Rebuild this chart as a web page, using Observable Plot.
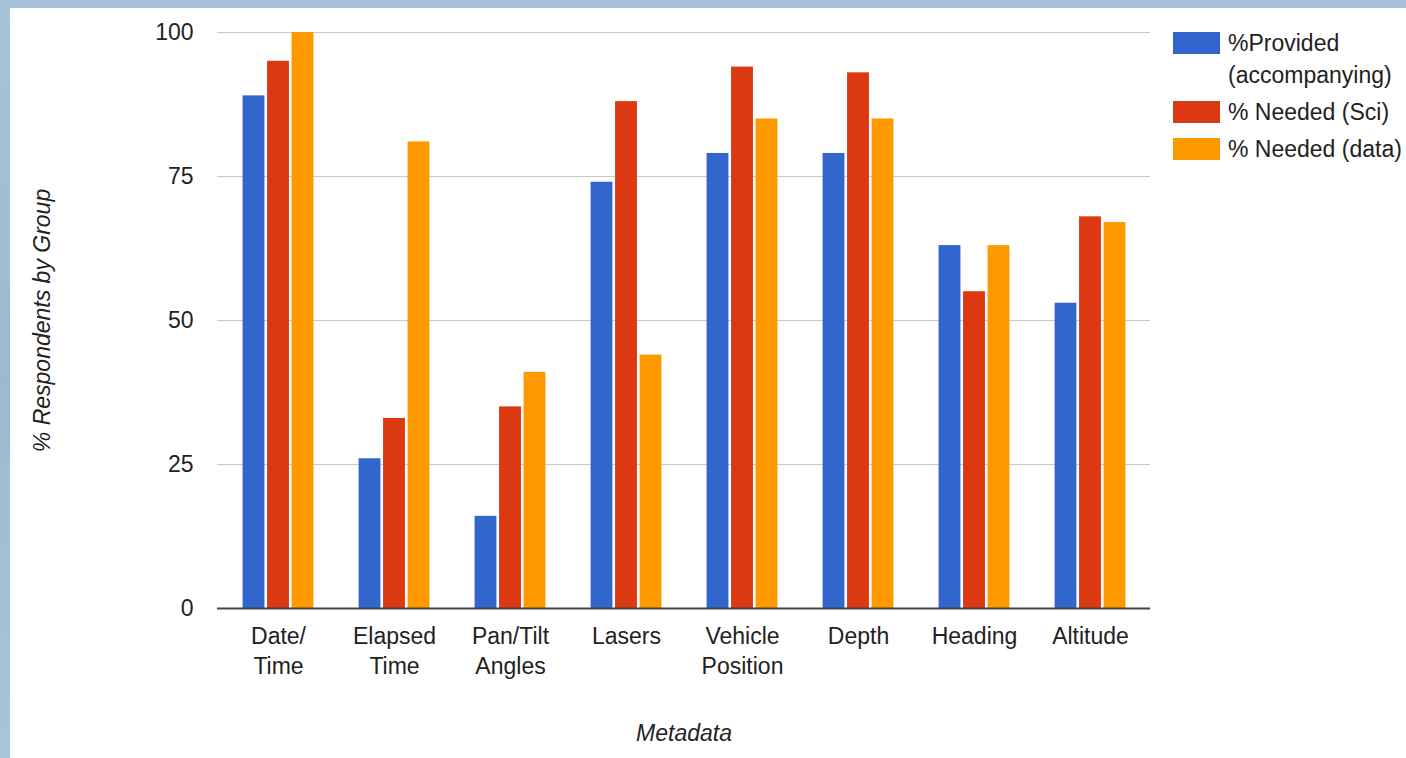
<!DOCTYPE html>
<html>
<head>
<meta charset="utf-8">
<script src="https://cdn.jsdelivr.net/npm/d3@7"></script>
<script src="https://cdn.jsdelivr.net/npm/@observablehq/plot@0.6"></script>
<style>
  html, body { margin: 0; padding: 0; width: 1406px; height: 758px; overflow: hidden; }
  body { background: linear-gradient(180deg, #a7c2d9 0%, #9db9d2 50%, #a9c3da 100%); font-family: "Liberation Sans", Arial, sans-serif; }
  #card { position: absolute; left: 10px; top: 8px; right: 0; bottom: 0; background: #fff; }
  #legend { position: absolute; left: 1173px; top: 27px; display: flex; flex-direction: column; gap: 5px; }
  .item { display: flex; align-items: flex-start; }
  .sw { width: 47px; height: 22px; margin-top: 5px; margin-right: 8px; flex: none; }
  .lbl { font-size: 23px; line-height: 32px; color: #222; width: 178px; white-space: normal; }
</style>
</head>
<body>
<div id="card"></div>
<div id="legend"></div>
<script>
const categories = ["Date/\nTime", "Elapsed\nTime", "Pan/Tilt\nAngles", "Lasers", "Vehicle\nPosition", "Depth", "Heading", "Altitude"];
const series = ["%Provided (accompanying)", "% Needed (Sci)", "% Needed (data)"];
const colors = ["#3366cc", "#dc3912", "#ff9900"];
const provided   = [89, 26, 16, 74, 79, 79, 63, 53];
const neededSci  = [95, 33, 35, 88, 94, 93, 55, 68];
const neededData = [100, 81, 41, 44, 85, 85, 63, 67];
const yTicks = [0, 25, 50, 75, 100];
const xTitle = "Metadata";
const yTitle = "% Respondents by Group";

const values = [provided, neededSci, neededData];
const rows = categories.flatMap((c, j) => series.map((s, i) => ({category: c, series: s, value: values[i][j]})));

const W = 1396, H = 750, ML = 207, MR = 256, MT = 24, MB = 150;
const step = (W - ML - MR) / categories.length;
const barW = 22.5, gap = 2;
const groupW = series.length * barW + (series.length - 1) * gap;
const off = (step - groupW) / 2;

const barMarks = series.map((s, i) => Plot.barY(rows.filter(d => d.series === s), {
  x: "category", y: "value", fill: colors[i],
  insetLeft: off + i * (barW + gap),
  insetRight: step - off - i * (barW + gap) - barW
}));

const chart = Plot.plot({
  width: W, height: H,
  marginLeft: ML, marginRight: MR, marginTop: MT, marginBottom: MB,
  style: {fontFamily: "'Liberation Sans', Arial, sans-serif", fontSize: "23px", color: "#222", background: "transparent"},
  x: {domain: categories, padding: 0, label: null},
  y: {domain: [0, 100], label: null},
  marks: [
    Plot.ruleY([25, 50, 75, 100], {stroke: "#c8c8c8", strokeWidth: 1.2}),
    ...barMarks,
    Plot.ruleY([0], {stroke: "#444", strokeWidth: 1.8}),
    Plot.axisY({ticks: yTicks, tickSize: 0, tickPadding: 24, label: null, fontSize: 23}),
    Plot.axisX({tickSize: 0, tickPadding: 14, label: null, fontSize: 23, lineHeight: 1.3}),
    Plot.text([xTitle], {frameAnchor: "bottom", dy: 132, fontStyle: "italic", fontSize: 23, fill: "#222"}),
    Plot.text([yTitle], {frameAnchor: "left", textAnchor: "middle", rotate: -90, dx: -175, fontStyle: "italic", fontSize: 23, fill: "#222"})
  ]
});
document.getElementById("card").appendChild(chart);

const legend = document.getElementById("legend");
series.forEach((s, i) => {
  const item = document.createElement("div");
  item.className = "item";
  const sw = document.createElement("div");
  sw.className = "sw";
  sw.style.background = colors[i];
  const lbl = document.createElement("div");
  lbl.className = "lbl";
  lbl.textContent = s;
  item.appendChild(sw);
  item.appendChild(lbl);
  legend.appendChild(item);
});
</script>
</body>
</html>
